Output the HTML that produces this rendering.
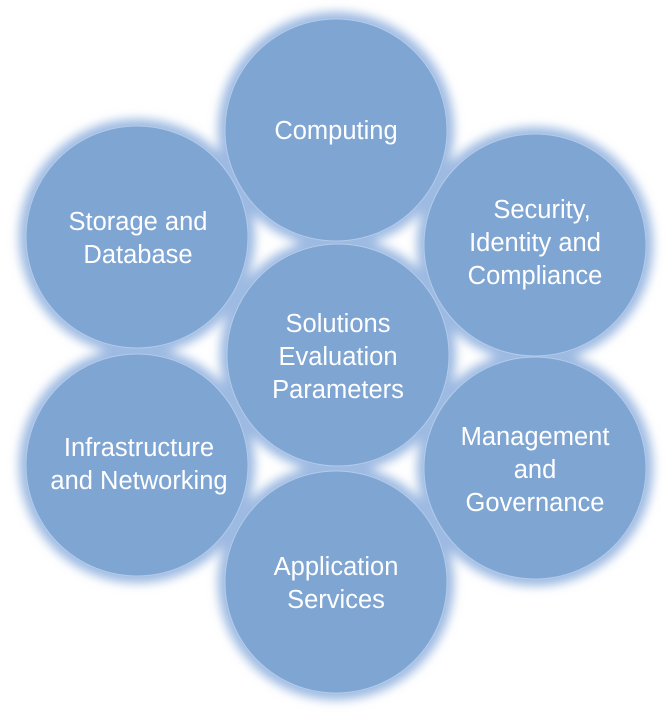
<!DOCTYPE html>
<html><head><style>
html,body{margin:0;padding:0;background:#fff;}
svg{display:block;}
text{font-family:"Liberation Sans",sans-serif;font-size:25.5px;fill:#fff;text-anchor:middle;}
</style></head><body>
<svg width="665" height="713" viewBox="0 0 665 713">
<defs>
<filter id="g" x="-20%" y="-20%" width="140%" height="140%">
<feGaussianBlur stdDeviation="5"/>
</filter>
</defs>
<g fill="#9dbae2" filter="url(#g)">
<circle cx="336" cy="130" r="118"/>
<circle cx="137" cy="237" r="118"/>
<circle cx="535" cy="245" r="118"/>
<circle cx="338" cy="355" r="118"/>
<circle cx="137" cy="465" r="118"/>
<circle cx="535" cy="468" r="118"/>
<circle cx="336" cy="582" r="118"/>
</g>
<g fill="#7fa5d3" stroke="#b3cbea" stroke-width="1">
<circle cx="338" cy="355" r="111"/>
<circle cx="137" cy="237" r="111"/>
<circle cx="535" cy="245" r="111"/>
<circle cx="137" cy="465" r="111"/>
<circle cx="535" cy="468" r="111"/>
<circle cx="336" cy="582" r="111"/>
<circle cx="336" cy="130" r="111"/>
</g>
<text x="336" y="139">Computing</text>
<text x="138" y="230">Storage and</text>
<text x="138" y="263">Database</text>
<text x="542" y="218">Security,</text>
<text x="535" y="251">Identity and</text>
<text x="535" y="284">Compliance</text>
<text x="338" y="332">Solutions</text>
<text x="338" y="365">Evaluation</text>
<text x="338" y="398">Parameters</text>
<text x="139" y="456">Infrastructure</text>
<text x="139" y="489">and Networking</text>
<text x="535" y="445">Management</text>
<text x="535" y="478">and</text>
<text x="535" y="511">Governance</text>
<text x="336" y="575">Application</text>
<text x="336" y="608">Services</text>
</svg>
</body></html>
